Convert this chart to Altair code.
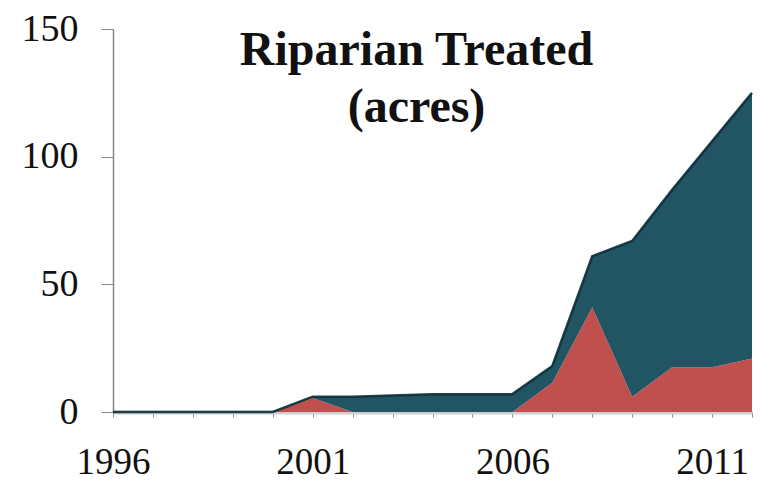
import altair as alt
import pandas as pd

years = list(range(1996, 2013))
red_vals = [0, 0, 0, 0, 0, 5.5, 0, 0, 0, 0, 0, 11.5, 41, 6, 17.5, 17.5, 21]
teal_vals = [0, 0, 0, 0, 0, 0.5, 6, 6.5, 7, 7, 7, 6.5, 20, 61, 69.5, 88.5, 104]
series_names = ["Red", "Teal"]
series_colors = ["#c0504d", "#215564"]
title_lines = ["Riparian Treated", "(acres)"]

rows = []
for i, s in enumerate(series_names):
    vals = red_vals if i == 0 else teal_vals
    for y, v in zip(years, vals):
        rows.append({"year": y, "value": v, "series": s, "ord": i})
df = pd.DataFrame(rows)
tot = pd.DataFrame({"year": years, "total": [a + b for a, b in zip(red_vals, teal_vals)]})

xscale = alt.Scale(domain=[1996, 2012], nice=False, zero=False)
yscale = alt.Scale(domain=[0, 150], nice=False)

xaxis = alt.Axis(
    values=years, format="d", title=None, grid=False,
    labelExpr="datum.value % 5 == 1 ? datum.label : ''",
    labelFont="Liberation Serif", labelFontSize=37, labelColor="#111",
    labelPadding=27, tickSize=5, tickColor="#888", tickWidth=1,
    domainColor="#cfcfcf", domainWidth=4, labelFlush=False, labelOverlap=False,
)
yaxis = alt.Axis(
    values=[0, 50, 100, 150], title=None, grid=False,
    labelFont="Liberation Serif", labelFontSize=38, labelColor="#111",
    labelPadding=23, tickSize=12, tickColor="#888", domainColor="#888",
    domainWidth=1.5, labelOverlap=False,
)

area = alt.Chart(df).mark_area(interpolate="linear").encode(
    x=alt.X("year:Q", scale=xscale, axis=xaxis),
    y=alt.Y("value:Q", stack="zero", scale=yscale, axis=yaxis),
    color=alt.Color("series:N", scale=alt.Scale(domain=series_names, range=series_colors), legend=None),
    order=alt.Order("ord:Q"),
)

edge = alt.Chart(tot).mark_line(color="#0b2c36", strokeWidth=2.5, opacity=0.9).encode(
    x=alt.X("year:Q", scale=xscale, axis=xaxis),
    y=alt.Y("total:Q", scale=yscale, axis=yaxis),
)

chart = (area + edge).properties(
    width=639, height=383,
    autosize=alt.AutoSizeParams(type="none"),
    padding={"left": 105, "top": 21, "right": 10, "bottom": 66},
    title=alt.TitleParams(
        text=title_lines, font="Liberation Serif", fontSize=48, fontWeight="bold",
        color="#111", anchor="middle", offset=-122, lineHeight=57, dx=-16,
    ),
).configure_view(stroke=None).configure_axis(labelOverlap=False)

chart.save("out.html", embed_options={"renderer": "svg", "actions": False})
